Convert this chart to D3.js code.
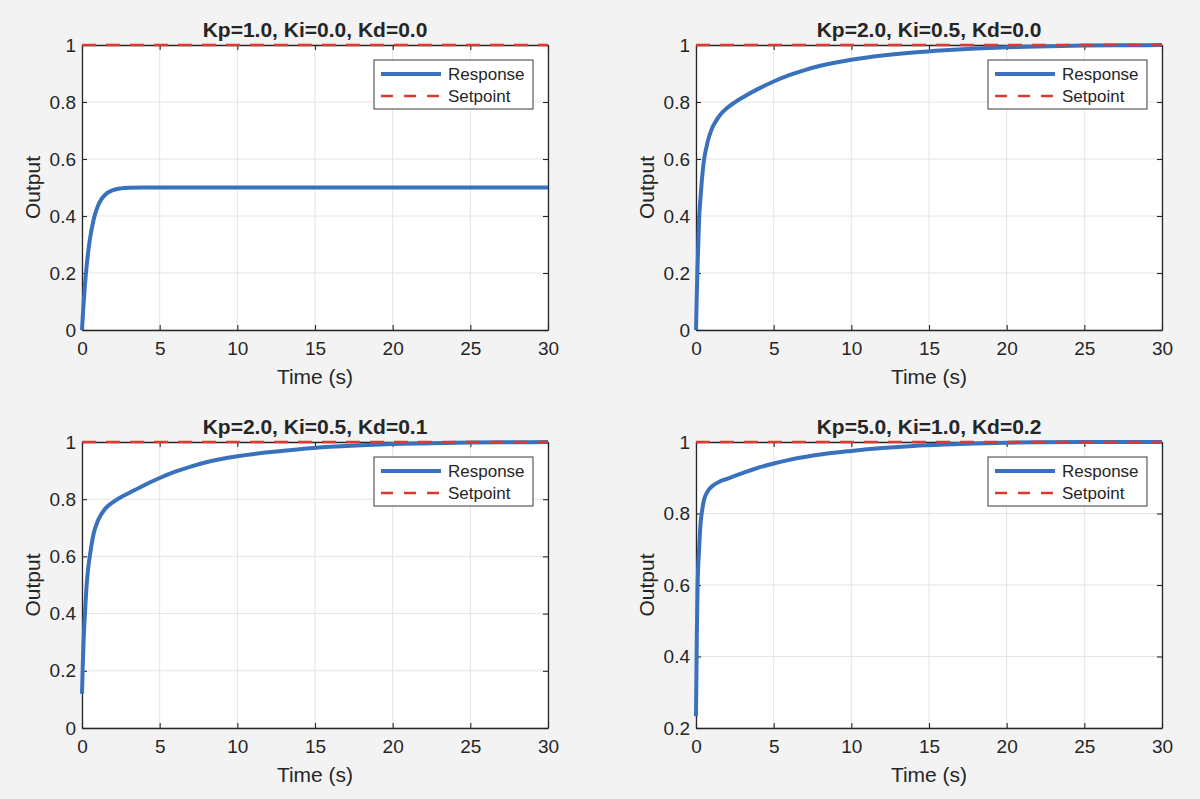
<!DOCTYPE html>
<html>
<head>
<meta charset="utf-8">
<script src="https://cdn.jsdelivr.net/npm/d3@7"></script>
<style>
  body { margin: 0; background: #f3f3f3; }
  text { font-family: "Liberation Sans", Arial, Helvetica, sans-serif; fill: #262626; }
</style>
</head>
<body>
<script>
// sample times (s), shared by all four runs
let TIME = [0, 0.05, 0.1, 0.2, 0.3, 0.4, 0.5, 0.75, 1, 1.25, 1.5, 2, 2.5, 3, 4, 5, 6, 7, 8,
            10, 12, 14, 16, 18, 20, 22, 25, 28, 30];

// responses
let resp_p1 = [0, 0.048, 0.09, 0.165, 0.225, 0.275, 0.316, 0.388, 0.432, 0.459, 0.475, 0.491, 0.497, 0.499,
               0.5, 0.5, 0.5, 0.5, 0.5, 0.5, 0.5, 0.5, 0.5, 0.5, 0.5, 0.5, 0.5, 0.5, 0.5];
let resp_p2 = [0, 0.12, 0.22, 0.39, 0.47, 0.54, 0.59, 0.66, 0.703, 0.73, 0.751, 0.779, 0.799, 0.816,
               0.846, 0.872, 0.894, 0.912, 0.927, 0.948, 0.963, 0.974, 0.982, 0.988, 0.992, 0.995, 0.998, 0.999, 1.0];
let resp_p3 = [0.12, 0.22, 0.3, 0.41, 0.5, 0.56, 0.6, 0.68, 0.722, 0.748, 0.767, 0.79, 0.807, 0.821,
               0.849, 0.874, 0.896, 0.914, 0.929, 0.95, 0.964, 0.975, 0.983, 0.989, 0.993, 0.995, 0.998, 0.999, 1.0];
let resp_p4 = [0.233, 0.45, 0.59, 0.7, 0.775, 0.81, 0.835, 0.862, 0.875, 0.883, 0.889, 0.897, 0.905, 0.913,
               0.928, 0.94, 0.95, 0.958, 0.965, 0.975, 0.983, 0.989, 0.993, 0.996, 0.998, 0.999, 1.0, 1.0, 1.0];

let SETPOINT = 1;

let titles = ["Kp=1.0, Ki=0.0, Kd=0.0", "Kp=2.0, Ki=0.5, Kd=0.0",
              "Kp=2.0, Ki=0.5, Kd=0.1", "Kp=5.0, Ki=1.0, Kd=0.2"];
let responses = [resp_p1, resp_p2, resp_p3, resp_p4];
let yDomains = [[0, 1], [0, 1], [0, 1], [0.2, 1]];
let yTicks = [[0, 0.2, 0.4, 0.6, 0.8, 1], [0, 0.2, 0.4, 0.6, 0.8, 1],
              [0, 0.2, 0.4, 0.6, 0.8, 1], [0.2, 0.4, 0.6, 0.8, 1]];
let xTicks = [0, 5, 10, 15, 20, 25, 30];
let legendLabels = ["Response", "Setpoint"];

let BLUE = "#3a71bd", RED = "#dc3a30", AXIS = "#262626", GRID = "#e4e4e4";

let width = 1200, height = 799;
let plot_w = 466;
let lefts = [82, 696, 82, 696];
let tops = [45, 45, 442, 442];
let heights = [285, 285, 286, 286];

let svg = d3.select("body").append("svg")
    .attr("width", width)
    .attr("height", height);

svg.append("rect").attr("width", width).attr("height", height).attr("fill", "#f3f3f3");

function fmt(d) { return String(+d.toFixed(1)); }

function drawPanel(i) {
    let plot_h = heights[i];
    let g = svg.append("g").attr("transform", `translate(${lefts[i]}, ${tops[i]})`);

    let x = d3.scaleLinear().domain([0, 30]).range([0, plot_w]);
    let y = d3.scaleLinear().domain(yDomains[i]).range([plot_h, 0]);

    g.append("rect").attr("width", plot_w).attr("height", plot_h).attr("fill", "#fff");

    // grid
    g.append("g").selectAll("line").data(xTicks).enter().append("line")
        .attr("x1", d => x(d)).attr("x2", d => x(d))
        .attr("y1", 0).attr("y2", plot_h)
        .attr("stroke", GRID).attr("stroke-width", 1);
    g.append("g").selectAll("line").data(yTicks[i]).enter().append("line")
        .attr("x1", 0).attr("x2", plot_w)
        .attr("y1", d => y(d)).attr("y2", d => y(d))
        .attr("stroke", GRID).attr("stroke-width", 1);

    // axes, ticks pointing inward on all four sides
    let axes = [
        g.append("g").attr("transform", `translate(0, ${plot_h})`)
            .call(d3.axisBottom(x).tickValues(xTicks).tickFormat(fmt).tickSizeInner(-5).tickSizeOuter(0).tickPadding(12)),
        g.append("g")
            .call(d3.axisLeft(y).tickValues(yTicks[i]).tickFormat(fmt).tickSizeInner(-5).tickSizeOuter(0).tickPadding(6)),
        g.append("g")
            .call(d3.axisTop(x).tickValues(xTicks).tickFormat("").tickSizeInner(-5).tickSizeOuter(0)),
        g.append("g").attr("transform", `translate(${plot_w}, 0)`)
            .call(d3.axisRight(y).tickValues(yTicks[i]).tickFormat("").tickSizeInner(-5).tickSizeOuter(0))
    ];
    axes.forEach(a => {
        a.select(".domain").attr("stroke", AXIS).attr("stroke-width", 1.3);
        a.selectAll(".tick line").attr("stroke", AXIS).attr("stroke-width", 1.1);
        a.selectAll(".tick text").style("font-size", "19px").attr("fill", AXIS);
    });

    // response and setpoint
    let pts = TIME.map((t, k) => ({t: t, v: responses[i][k]}));
    let line = d3.line().x(d => x(d.t)).y(d => y(d.v)).curve(d3.curveMonotoneX);
    g.append("path").datum(pts)
        .attr("d", line)
        .attr("fill", "none").attr("stroke", BLUE)
        .attr("stroke-width", 4).attr("stroke-linejoin", "round");

    let sp = [{t: 0, v: SETPOINT}, {t: 30, v: SETPOINT}];
    g.append("path").datum(sp)
        .attr("d", d3.line().x(d => x(d.t)).y(d => y(d.v)))
        .attr("fill", "none").attr("stroke", RED)
        .attr("stroke-width", 2.5).attr("stroke-dasharray", "14,10");

    // title and axis labels
    g.append("text")
        .attr("x", plot_w / 2).attr("y", -8)
        .style("text-anchor", "middle").style("font-size", "21px").style("font-weight", "bold")
        .attr("fill", "#111")
        .text(titles[i]);

    g.append("text")
        .attr("transform", `translate(${plot_w / 2}, ${plot_h + 54})`)
        .style("text-anchor", "middle").style("font-size", "21px")
        .text("Time (s)");

    g.append("text")
        .attr("transform", `translate(-42, ${plot_h / 2}) rotate(-90)`)
        .style("text-anchor", "middle").style("font-size", "21px")
        .text("Output");

    // legend
    let lg = g.append("g").attr("transform", `translate(${plot_w - 15 - 159}, 15)`);
    lg.append("rect").attr("width", 159).attr("height", 49)
        .attr("fill", "#fff").attr("stroke", "#3a3a3a").attr("stroke-width", 1);
    legendLabels.forEach((lab, k) => {
        let yy = 14 + k * 22;
        lg.append("line").attr("x1", 7).attr("x2", 67).attr("y1", yy).attr("y2", yy)
            .attr("stroke", k == 0 ? BLUE : RED)
            .attr("stroke-width", k == 0 ? 4 : 2.5)
            .attr("stroke-dasharray", k == 0 ? null : "12,11");
        lg.append("text").attr("x", 74).attr("y", yy).attr("dy", "0.36em")
            .style("font-size", "17px")
            .text(lab);
    });
}

for (let i = 0; i < 4; i++) drawPanel(i);
</script>
</body>
</html>
